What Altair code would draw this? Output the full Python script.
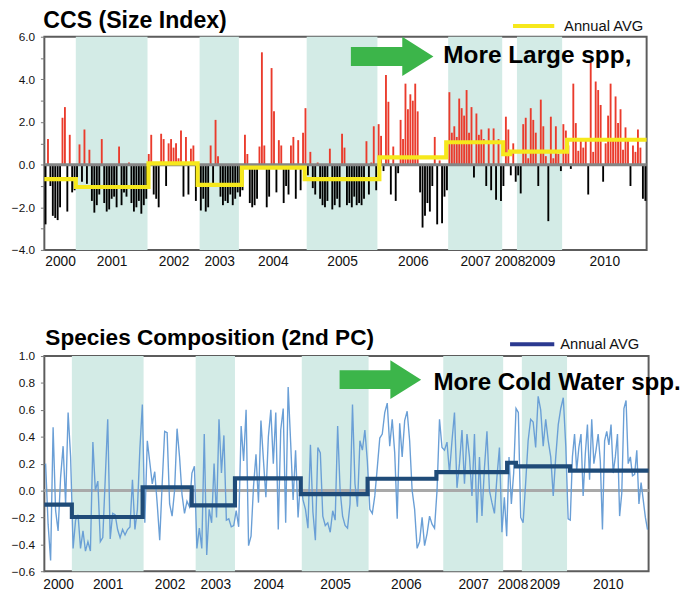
import altair as alt
import pandas as pd

FONT = "Liberation Sans"
RED = "#ea3b2c"
BLACK = "#000000"
YELLOW = "#f6e81c"
SHADE = "#d3ebe6"
GREEN = "#3cb54a"
BLUE = "#6a9fd6"
NAVY = "#1f4b78"
LEGEND_NAVY = "#2b3990"
FRAME = "#5c5c5c"

years = [str(y) for y in range(2000, 2011)]
shaded_years = ["2001", "2003", "2005", "2007", "2009"]

# ---------------- Top panel: CCS (Size Index) ----------------
top_year_edges = [0, 32, 105, 158, 198, 267, 339, 411, 466, 481, 527, 613]
top_avg_edges = [0, 32, 106, 156, 201, 265, 341, 409, 467, 474, 532, 613]
top_annual_avg = [-0.68, -1.05, 0.06, -0.95, -0.14, -0.68, 0.34, 1.05, 0.49, 0.61, 1.17]
size_ticks = [-4, -3, -2, -1, 0, 1, 2, 3, 4, 5, 6]

size_2000 = [-2.8, 1.2, -1.0, -2.4, -2.5, -2.6, -2.0, 2.2, 2.7, -2.2, 1.4, -1.3, -1.2]
size_2001 = [-0.6, 0.95, -0.8, 1.65, -0.9, 0.7, -1.7, -2.25, -1.9, -1.4, 1.2, -1.8, -2.2, -2.1, -1.6,
             -1.5, -2.0, 0.85, -1.9, -1.3, -1.5, 0.1, -1.8, -2.2, -2.0, -1.7, -2.3, -1.9, -1.6]
size_2002 = [0.5, 1.4, -1.4, -1.6, -2.0, 1.45, 1.2, -1.0, 1.0, 1.2, 0.8, 1.0, 0.3, 1.6, -1.5, 1.3,
             -1.4, 0.75, 0.9, -1.7, -1.0]
size_2003 = [-2.15, -1.6, -2.2, -2.0, 0.9, -1.0, 2.1, 0.4, -1.5, -1.9, -1.7, -1.8, -1.4, -1.9, -1.6, -1.3]
size_2004 = [-1.5, -1.2, 1.4, 0.5, -1.8, -2.0, -1.9, -1.6, 0.85, 5.27, 0.9, -2.0, -1.5, 4.53, 2.5, -1.3,
             1.15, 0.9, -1.8, -1.0, -1.4, 0.9, 1.3, -1.6, 1.15, -1.2, 1.5, 2.65]
size_2005 = [-0.5, 0.6, -1.1, -1.4, 0.1, -1.6, -1.9, -2.0, -1.7, 0.75, -2.1, -1.9, -1.6, -2.0, 1.45, 0.8,
             -1.9, -1.8, -2.0, -1.5, -1.9, -1.8, -1.9, -1.6, 1.1, -1.4, 0.1, 1.8, -1.2]
size_2006 = [1.9, 1.35, -0.3, 4.2, 2.95, -1.4, 0.85, -1.7, -0.4, 2.1, 1.2, 3.8, 2.6, 3.3, 3.0, 3.8, 2.5,
             -1.3, -2.95, -2.4, -1.8, -2.2, -1.0, 1.3, -2.8, 0.2, -2.75, -1.5, -1.2]
size_2007 = [3.4, 1.5, 1.8, 1.3, 3.1, 2.65, 2.3, 3.5, 1.5, 2.7, -0.6, 2.4, 1.4, 1.65, 1.2, -1.0, 1.7,
             -1.2, 1.7, -1.65, 1.2, -1.7]
size_2008 = [-1.0, 2.25, 1.65, -0.5, 1.0, -0.8]
size_2009 = [-0.5, -1.35, 1.9, 2.2, 0.3, 2.65, 2.1, 1.5, -1.0, 3.05, 1.8, 0.4, -2.65, 2.25, 0.3, 1.8,
             0.5, -0.3]
size_2010 = [1.9, 1.6, 0.9, -0.2, 3.8, 1.95, 0.65, 1.2, 0.8, 1.2, -1.4, 4.8, 0.6, 3.9, 3.5, 2.8, -0.8,
             1.0, 2.3, 3.8, 1.2, 3.2, 1.95, 2.6, 0.7, 1.75, 1.2, -1.0, 0.9, 0.6, 1.65, 0.8, -1.6, -1.7]
size_index = [size_2000, size_2001, size_2002, size_2003, size_2004, size_2005,
              size_2006, size_2007, size_2008, size_2009, size_2010]

# ---------------- Bottom panel: Species Composition (2nd PC) ----------------
bot_year_edges = [0, 28, 101, 154, 194, 262, 330, 406, 467, 486, 532, 615]
bot_avg_edges = [0, 28, 100, 150, 194, 261, 329, 399, 471, 480, 535, 615]
bot_annual_avg = [-0.105, -0.197, 0.024, -0.11, 0.09, -0.027, 0.088, 0.137, 0.207, 0.18, 0.148]
pc_ticks = [-0.6, -0.4, -0.2, 0.0, 0.2, 0.4, 0.6, 0.8, 1.0]

pc_2000 = [0.2, -0.25, -0.52, 0.47, -0.15, -0.3, 0.1, 0.33, -0.1, 0.58, 0.25]
pc_2001 = [-0.43, -0.22, -0.18, -0.43, -0.3, -0.45, -0.38, -0.45, 0.36, 0.0, 0.07, -0.38, -0.35, 0.09,
           0.53, -0.36, -0.17, -0.18, -0.29, -0.35, -0.29, -0.33, -0.29, -0.27, 0.08, -0.29, -0.14,
           0.31, 0.64]
pc_2002 = [-0.24, 0.37, 0.21, 0.05, 0.14, -0.1, -0.37, 0.05, 0.44, 0.43, -0.1, -0.19, 0.0, 0.46, 0.25,
           -0.03, -0.17, -0.08, -0.12, 0.13, 0.18]
pc_2003 = [-0.43, -0.28, -0.43, 0.42, -0.48, -0.14, -0.24, 0.2, -0.2, 0.53, 0.13, 0.41, -0.22, -0.21,
           -0.27, -0.26]
pc_2004 = [-0.15, -0.27, 0.48, 0.22, 0.6, -0.41, -0.34, 0.03, 0.27, -0.09, 0.52, 0.23, -0.05, 0.4, 0.6,
           0.2, 0.58, -0.29, 0.45, 0.61, -0.24, 0.77, 0.36, -0.07, 0.3, -0.2, 0.08]
pc_2005 = [-0.07, -0.14, -0.28, 0.34, -0.16, -0.37, 0.32, 0.28, -0.19, -0.26, -0.24, -0.31, -0.15,
           -0.22, 0.48, 0.0, -0.19, -0.26, -0.28, -0.1, 0.64, 0.05, -0.12, 0.37, 0.3, 0.45, 0.22]
pc_2006 = [-0.14, -0.17, -0.04, 0.17, 0.39, 0.42, 0.58, 0.65, 0.33, 0.53, 0.28, -0.21, 0.5, 0.25, 0.52,
           0.59, 0.37, 0.0, -0.14, -0.43, -0.38, -0.2, -0.41, -0.32, -0.19, -0.25, -0.28, 0.0, 0.53, 0.32]
pc_2007 = [0.3, 0.36, 0.13, 0.37, 0.58, 0.02, 0.2, 0.45, 0.05, 0.42, 0.25, -0.04, 0.42, -0.24, 0.25,
           -0.19, 0.17, 0.44, 0.0, -0.09, -0.17, 0.1, 0.32, -0.31]
pc_2008 = [-0.05, -0.34, 0.25, -0.1, 0.13, 0.61, 0.58, -0.2]
pc_2009 = [-0.24, 0.05, 0.37, 0.53, 0.51, 0.32, 0.7, 0.6, 0.33, 0.53, 0.37, 0.25, -0.04, 0.25, 0.49,
           0.61, 0.69, 0.33]
pc_2010 = [-0.21, -0.22, 0.25, 0.42, 0.15, 0.32, 0.42, -0.04, 0.27, 0.49, 0.08, 0.53, 0.2, 0.3, 0.42,
           0.22, -0.29, 0.37, 0.44, 0.34, 0.49, 0.13, 0.25, 0.42, -0.19, -0.02, 0.61, 0.67, 0.2, 0.25,
           0.11, 0.12, 0.3, -0.1, 0.06, -0.07, -0.2, -0.29]
pc2 = [pc_2000, pc_2001, pc_2002, pc_2003, pc_2004, pc_2005,
       pc_2006, pc_2007, pc_2008, pc_2009, pc_2010]

ARROW = "M -1 -0.23 L 0.245 -0.23 L 0.245 -0.475 L 1 0 L 0.245 0.475 L 0.245 0.23 L -1 0.23 Z"


def series_frame(edges, groups):
    rows = []
    for k, vals in enumerate(groups):
        n = len(vals)
        w = edges[k + 1] - edges[k]
        for i, v in enumerate(vals):
            rows.append({"x": edges[k] + (i + 0.5) * w / n, "v": v, "year": years[k]})
    return pd.DataFrame(rows)


def step_frame(edges, avgs):
    rows = []
    for k, a in enumerate(avgs):
        rows.append({"x": edges[k], "v": a, "o": 2 * k})
        rows.append({"x": edges[k + 1], "v": a, "o": 2 * k + 1})
    return pd.DataFrame(rows)


def shade_frame(edges):
    return pd.DataFrame([{"x0": edges[k], "x1": edges[k + 1]}
                         for k, y in enumerate(years) if y in shaded_years])


def year_expr(edges):
    parts = [f"datum.value < {edges[k + 1]} ? '{years[k]}'" for k in range(len(years))]
    return " : ".join(parts) + " : ''"


def panel(edges, avg_edges, avgs, groups, ticks, ydom, W, H, kind, title_txt, note_txt,
          step_color, legend_color, ann, label_pad):
    xs = alt.Scale(domain=[0, edges[-1]], nice=False, zero=False)
    ys = alt.Scale(domain=ydom, nice=False, zero=False)
    mids = [(edges[k] + edges[k + 1]) / 2 for k in range(len(years))]
    xaxis = alt.Axis(values=mids, labelExpr=year_expr(edges), title=None, ticks=False, domain=False,
                     grid=False, labelFontSize=14, labelPadding=label_pad, labelOverlap=False,
                     labelFlush=False, labelColor="#111111", labelBound=False)
    if kind == "bars":
        lexpr = "datum.value % 2 == 0 ? format(datum.value, '.1f') : ''"
    else:
        lexpr = "format(datum.value, '.1f')"
    yaxis = alt.Axis(values=ticks, labelExpr=lexpr, title=None, domain=False, grid=False,
                     tickSize=4, tickColor="#777777", tickWidth=1, labelPadding=6,
                     labelFontSize=12, labelColor="#111111")

    def X(field):
        return alt.X(field, scale=xs, axis=xaxis, title=None)

    def Y(field):
        return alt.Y(field, scale=ys, axis=yaxis, title=None)

    shade = alt.Chart(shade_frame(edges)).mark_rect(color=SHADE).encode(
        x=X("x0:Q"), x2="x1:Q",
        y=alt.value(0), y2=alt.value(H))

    df = series_frame(edges, groups)
    if kind == "bars":
        data_layer = alt.Chart(df).mark_rule(strokeWidth=1.9).encode(
            x=X("x:Q"),
            y=Y("v:Q"),
            y2=alt.datum(0),
            color=alt.condition("datum.v > 0", alt.value(RED), alt.value(BLACK)))
        zero = alt.Chart(pd.DataFrame({"z": [0]})).mark_rule(color="#858585", strokeWidth=3).encode(
            y=Y("z:Q"))
        layers = [shade, data_layer, zero]
    else:
        zero = alt.Chart(pd.DataFrame({"z": [0]})).mark_rule(color="#a9a9a9", strokeWidth=3).encode(
            y=Y("z:Q"))
        data_layer = alt.Chart(df).mark_line(color=BLUE, strokeWidth=1.4).encode(
            x=X("x:Q"),
            y=Y("v:Q"))
        layers = [shade, zero, data_layer]

    step = alt.Chart(step_frame(avg_edges, avgs)).mark_line(
        color=step_color, strokeWidth=4.2, strokeJoin="miter").encode(
        x=X("x:Q"),
        y=Y("v:Q"),
        order="o:Q")
    layers.append(step)

    one = pd.DataFrame({"t": [title_txt], "n": [note_txt], "l": ["Annual AVG"]})
    title = alt.Chart(one).mark_text(align="left", baseline="alphabetic", fontSize=ann["title_fs"],
                                     fontWeight="bold", color="#000000").encode(
        x=alt.value(ann["title_x"]), y=alt.value(ann["title_y"]), text="t:N")
    leg_line = alt.Chart(one).mark_rule(color=legend_color, strokeWidth=4).encode(
        x=alt.value(ann["leg_x0"]), x2=alt.value(ann["leg_x1"]), y=alt.value(ann["leg_y"]))
    leg_text = alt.Chart(one).mark_text(align="left", baseline="alphabetic", fontSize=15,
                                        color="#111111").encode(
        x=alt.value(ann["leg_tx"]), y=alt.value(ann["leg_ty"]), text="l:N")
    arrow = alt.Chart(one).mark_point(shape=ARROW, filled=True, color=GREEN, opacity=1,
                                      strokeWidth=0, size=ann["arrow_size"]).encode(
        x=alt.value(ann["arrow_x"]), y=alt.value(ann["arrow_y"]))
    note = alt.Chart(one).mark_text(align="left", baseline="alphabetic", fontSize=ann["note_fs"],
                                    fontWeight="bold", color="#000000").encode(
        x=alt.value(ann["note_x"]), y=alt.value(ann["note_y"]), text="n:N")
    layers += [title, leg_line, leg_text, arrow, note]
    return alt.layer(*layers).properties(width=W, height=H)


top = panel(top_year_edges, top_avg_edges, top_annual_avg, size_index, size_ticks, [-4, 6],
            613, 217, "bars", "CCS (Size Index)", "More Large spp,", YELLOW, YELLOW,
            {"title_x": -1, "title_y": -9, "title_fs": 23.5, "leg_x0": 477, "leg_x1": 519,
             "leg_y": -11, "leg_tx": 529, "leg_ty": -6, "arrow_size": 84 * 84, "arrow_x": 354,
             "arrow_y": 20, "note_x": 406, "note_y": 27, "note_fs": 24.8}, 5)

bottom = panel(bot_year_edges, bot_avg_edges, bot_annual_avg, pc2, pc_ticks, [-0.6, 1.0],
               615, 219, "line", "Species Composition (2nd PC)", "More Cold Water spp.", NAVY,
               LEGEND_NAVY,
               {"title_x": 1, "title_y": -11, "title_fs": 23, "leg_x0": 474, "leg_x1": 519,
                "leg_y": -12, "leg_tx": 525, "leg_ty": -7, "arrow_size": 83 * 83, "arrow_x": 342,
                "arrow_y": 24, "note_x": 396, "note_y": 35, "note_fs": 24.6},
               {"condition": {"test": "datum.label == '2008'", "value": 4}, "value": 7})

chart = alt.vconcat(top, bottom, spacing=58).properties(
    padding={"left": 2, "top": -5, "right": 0, "bottom": 0},
    background="white",
).configure(font=FONT).configure_view(stroke=FRAME, strokeWidth=2)

chart.save("out.html", embed_options={"renderer": "svg", "actions": False})
